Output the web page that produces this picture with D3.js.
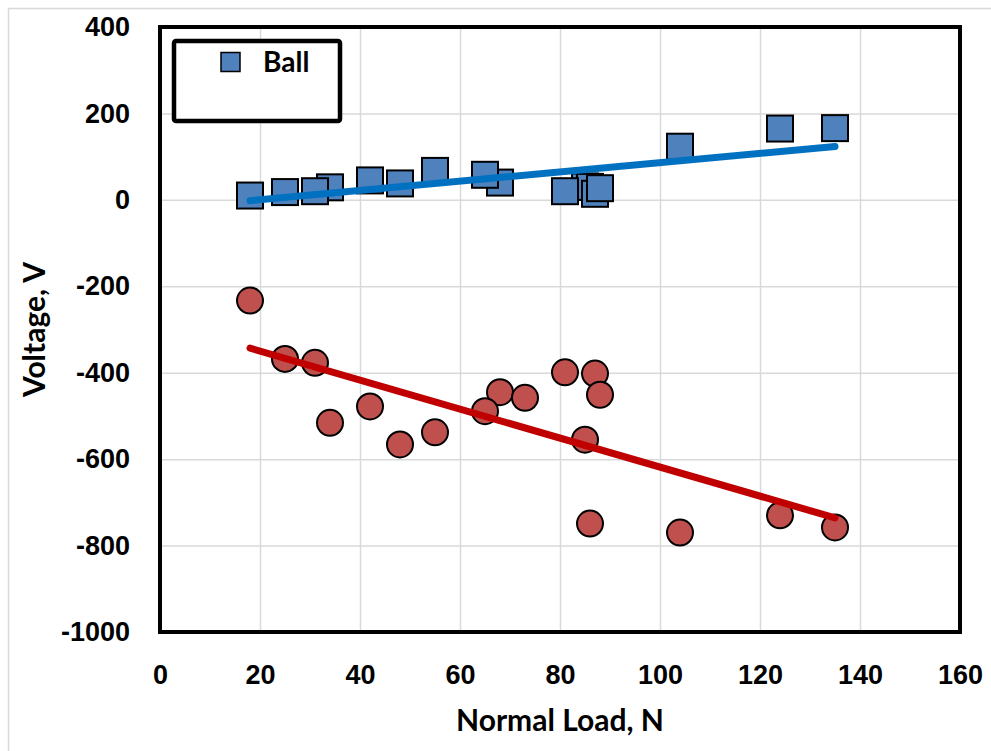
<!DOCTYPE html>
<html>
<head>
<meta charset="utf-8">
<script src="https://cdn.jsdelivr.net/npm/d3@7"></script>
<style>
  body { margin: 0; background: #fff; }
  svg { display: block; font-family: Lato, "Liberation Sans", sans-serif; font-weight: bold; }
</style>
</head>
<body>
<div id="container"></div>
<script>
//### DATA ###
//>>> Ball (blue squares): normal load N, voltage V  (order = draw order)
const ballLoad    = [ 18, 25, 34, 31, 42, 48, 55, 68, 65, 85, 86, 81, 87, 88, 104, 124, 135 ];
const ballVoltage = [ 10, 18, 29, 20, 45, 38, 67, 40, 58, 31, 30, 20, 14, 27, 123, 165, 166 ];

//>>> Second series (red circles)
const redLoad    = [ 18, 25, 31, 34, 42, 48, 55, 68, 65, 73, 81, 85, 86, 87, 88, 104, 124, 135 ];
const redVoltage = [ -233, -368, -377, -516, -478, -566, -538, -445, -489, -458, -399, -555, -749, -402, -451, -770, -730, -758 ];

//>>> Axis ticks
const xTicks = [ 0, 20, 40, 60, 80, 100, 120, 140, 160 ];
const yTicks = [ 400, 200, 0, -200, -400, -600, -800, -1000 ];

const legendLabels = [ 'Ball' ];

//### LAYOUT ###
const width = 991;
const height = 751;
const plot = { left: 160, right: 960, top: 27, bottom: 632 };

const blueFill = '#4f81bd';
const redFill = '#c0504d';
const blueLine = '#0070c0';
const redLine = '#c00000';
const gridColor = '#d9d9d9';
const tickFont = '27px';
const titleFont = '30px';

const svg = d3.select( '#container' ).append( 'svg' )
  .attr( 'width', width )
  .attr( 'height', height );

//>>> Outer chart frame
svg.append( 'rect' )
  .attr( 'x', 8.5 ).attr( 'y', 8.5 )
  .attr( 'width', width + 20 ).attr( 'height', height + 20 )
  .attr( 'fill', '#fff' )
  .attr( 'stroke', gridColor )
  .attr( 'stroke-width', 1.5 );

//_____ SCALES _____
const x = d3.scaleLinear().domain( [ 0, 160 ] ).range( [ plot.left, plot.right ] );
const y = d3.scaleLinear().domain( [ -1000, 400 ] ).range( [ plot.bottom, plot.top ] );

//_____ GRID _____
svg.append( 'g' )
  .attr( 'transform', `translate(0,${plot.bottom})` )
  .call( d3.axisBottom( x ).tickValues( xTicks ).tickSize( -( plot.bottom - plot.top ) ).tickFormat( '' ) )
  .call( g => g.select( '.domain' ).remove() )
  .call( g => g.selectAll( 'line' ).attr( 'stroke', gridColor ).attr( 'stroke-width', 1.5 ) );

svg.append( 'g' )
  .attr( 'transform', `translate(${plot.left},0)` )
  .call( d3.axisLeft( y ).tickValues( yTicks ).tickSize( -( plot.right - plot.left ) ).tickFormat( '' ) )
  .call( g => g.select( '.domain' ).remove() )
  .call( g => g.selectAll( 'line' ).attr( 'stroke', gridColor ).attr( 'stroke-width', 1.5 ) );

//_____ TICK LABELS _____
const xAxis = svg.append( 'g' )
  .attr( 'transform', `translate(0,${plot.bottom})` )
  .call( d3.axisBottom( x ).tickValues( xTicks ).tickSize( 0 ).tickPadding( 52 ).tickFormat( d => String( d ) ) );
xAxis.select( '.domain' ).remove();
xAxis.selectAll( 'text' )
  .attr( 'dy', 0 )
  .style( 'font-size', tickFont ).style( 'font-family', 'inherit' ).style( 'font-weight', 'bold' )
  .attr( 'fill', '#000' );

const yAxis = svg.append( 'g' )
  .attr( 'transform', `translate(${plot.left},0)` )
  .call( d3.axisLeft( y ).tickValues( yTicks ).tickSize( 0 ).tickPadding( 30 ).tickFormat( d => String( d ) ) );
yAxis.select( '.domain' ).remove();
yAxis.selectAll( 'text' )
  .style( 'font-size', tickFont ).style( 'font-family', 'inherit' ).style( 'font-weight', 'bold' )
  .attr( 'fill', '#000' );

//_____ AXIS TITLES _____
svg.append( 'text' )
  .attr( 'x', ( plot.left + plot.right ) / 2 )
  .attr( 'y', 731 )
  .attr( 'text-anchor', 'middle' )
  .style( 'font-size', titleFont )
  .text( 'Normal Load, N' );

svg.append( 'text' )
  .attr( 'transform', `translate(45,${( plot.top + plot.bottom ) / 2}) rotate(-90)` )
  .attr( 'text-anchor', 'middle' )
  .style( 'font-size', titleFont )
  .text( 'Voltage, V' );

//_____ MARKERS _____
const ballPts = ballLoad.map( ( d, i ) => ( { x: d, y: ballVoltage[ i ] } ) );
const redPts = redLoad.map( ( d, i ) => ( { x: d, y: redVoltage[ i ] } ) );
const sq = 26;

svg.append( 'g' ).selectAll( 'rect' )
  .data( ballPts ).enter().append( 'rect' )
  .attr( 'x', d => x( d.x ) - sq / 2 )
  .attr( 'y', d => y( d.y ) - sq / 2 )
  .attr( 'width', sq ).attr( 'height', sq )
  .attr( 'fill', blueFill )
  .attr( 'stroke', '#000' ).attr( 'stroke-width', 2 );

svg.append( 'g' ).selectAll( 'circle' )
  .data( redPts ).enter().append( 'circle' )
  .attr( 'cx', d => x( d.x ) )
  .attr( 'cy', d => y( d.y ) )
  .attr( 'r', 13 )
  .attr( 'fill', redFill )
  .attr( 'stroke', '#000' ).attr( 'stroke-width', 2 );

//_____ LINEAR TRENDLINES (least squares) _____
function trend ( pts ) {
  const mx = d3.mean( pts, d => d.x );
  const my = d3.mean( pts, d => d.y );
  const slope = d3.sum( pts, d => ( d.x - mx ) * ( d.y - my ) ) / d3.sum( pts, d => ( d.x - mx ) ** 2 );
  const [ x0, x1 ] = d3.extent( pts, d => d.x );
  return [ [ x0, my + slope * ( x0 - mx ) ], [ x1, my + slope * ( x1 - mx ) ] ];
}
const line = d3.line().x( d => x( d[ 0 ] ) ).y( d => y( d[ 1 ] ) );

svg.append( 'path' )
  .attr( 'd', line( trend( ballPts ) ) )
  .attr( 'stroke', blueLine ).attr( 'stroke-width', 7 )
  .attr( 'stroke-linecap', 'round' ).attr( 'fill', 'none' );

svg.append( 'path' )
  .attr( 'd', line( trend( redPts ) ) )
  .attr( 'stroke', redLine ).attr( 'stroke-width', 7 )
  .attr( 'stroke-linecap', 'round' ).attr( 'fill', 'none' );

//_____ PLOT FRAME _____
svg.append( 'rect' )
  .attr( 'x', plot.left ).attr( 'y', plot.top )
  .attr( 'width', plot.right - plot.left ).attr( 'height', plot.bottom - plot.top )
  .attr( 'fill', 'none' )
  .attr( 'stroke', '#000' ).attr( 'stroke-width', 4 );

//_____ LEGEND _____
const legend = svg.append( 'g' ).attr( 'id', 'legend' );
legend.append( 'rect' )
  .attr( 'x', 174 ).attr( 'y', 41 )
  .attr( 'width', 166 ).attr( 'height', 80 )
  .attr( 'rx', 2 )
  .attr( 'fill', '#fff' )
  .attr( 'stroke', '#000' ).attr( 'stroke-width', 4.5 );

legend.selectAll( '.item' )
  .data( legendLabels ).enter().append( 'g' )
  .attr( 'class', 'item' )
  .each( function ( d ) {
    const g = d3.select( this );
    g.append( 'rect' )
      .attr( 'x', 221 ).attr( 'y', 52.5 )
      .attr( 'width', 19 ).attr( 'height', 19 )
      .attr( 'fill', blueFill )
      .attr( 'stroke', '#000' ).attr( 'stroke-width', 1.5 );
    g.append( 'text' )
      .attr( 'x', 263 ).attr( 'y', 72 )
      .style( 'font-size', '28px' )
      .text( d );
  } );
</script>
</body>
</html>
